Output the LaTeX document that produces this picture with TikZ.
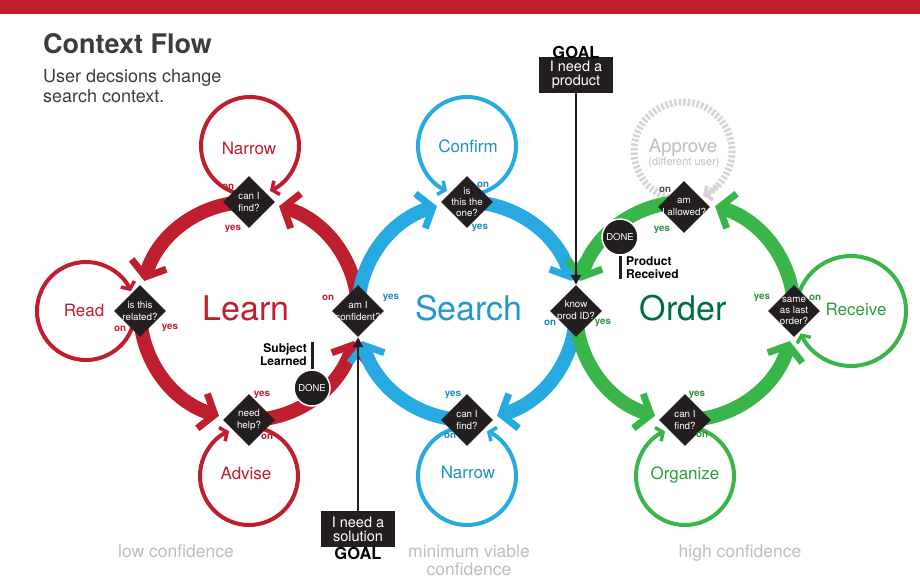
\documentclass[tikz,border=0pt]{standalone}
\usepackage{fontspec}
\setmainfont{TeX Gyre Heros}
\usetikzlibrary{arrows.meta,shapes.geometric,calc}
\definecolor{cred}{RGB}{190,30,45}
\definecolor{cblue}{RGB}{39,170,225}
\definecolor{cgreen}{RGB}{57,181,74}
\definecolor{cdgreen}{RGB}{0,110,60}
\definecolor{cgrayline}{RGB}{212,212,212}
\definecolor{cgraytext}{RGB}{190,190,190}
\definecolor{cdark}{RGB}{35,31,32}
\definecolor{ctitle}{RGB}{60,60,60}
\newcommand{\myfs}[2]{\fontsize{#1}{#2}\selectfont}
\begin{document}
\begin{tikzpicture}[x=1pt,y=-1pt,
  dia/.style={diamond, fill=cdark, minimum width=52pt, minimum height=52pt, inner sep=0pt},
  dt/.style={text=white, align=center, font=\myfs{9.8}{11.2}, inner sep=0pt},
  band/.style={line width=14pt, -{Straight Barb[length=13pt,width=36pt,line width=7pt]}},
  lp/.style={line width=4pt, -{Straight Barb[length=5.5pt,width=15pt,line width=3.5pt]}},
  yn/.style={font=\bfseries\myfs{9.8}{9.8}, inner sep=0pt},
  donenode/.style={circle, fill=cdark, draw=white, line width=1.5pt, minimum size=36pt, inner sep=0pt, text=white, font=\myfs{9.5}{10}},
  goalbox/.style={fill=cdark, text=white, align=center, font=\myfs{14.5}{14}, minimum width=74pt, minimum height=36pt, inner sep=1pt},
  goalline/.style={line width=2.5pt, draw=cdark, -{Triangle[length=10pt,width=10pt]}},
  bigword/.style={font=\myfs{34}{34}, anchor=base, inner sep=0pt},
  loopword/.style={font=\myfs{17}{17}, anchor=base, inner sep=0pt},
  boldlab/.style={font=\bfseries\myfs{12}{13}, inner sep=0pt},
  bottomlab/.style={font=\myfs{17.5}{17.5}, anchor=base, inner sep=0pt, text=cgraytext},
]
\useasboundingbox (0,0) rectangle (920,584);
\fill[cred] (0,0) rectangle (920,14);

% title
\node[anchor=base west, inner sep=0, font=\bfseries\myfs{27}{27}, text=ctitle] (title) at (43,53) {Context Flow};
\node[anchor=base west, inner sep=0, font=\myfs{18}{20}, text=ctitle] (sub1) at (43,82) {User decsions change};
\node[anchor=base west, inner sep=0, font=\myfs{18}{20}, text=ctitle] (sub2) at (43,102) {search context.};

% ring centres
\coordinate (Lc) at (249,311);
\coordinate (Sc) at (467,311);
\coordinate (Oc) at (685,311);
% loop centres
\coordinate (cNL) at (250,146);
\coordinate (cRd) at (86,311);
\coordinate (cAd) at (249,476);
\coordinate (cCf) at (467,146);
\coordinate (cNS) at (467,476);
\coordinate (cOg) at (685,476);
\coordinate (cRc) at (851,311);
\coordinate (cAp) at (683,151);

% diamond positions
\path (249,202) coordinate (plt) (140,311) coordinate (pll) (249,420) coordinate (plb)
      (358,311) coordinate (pac) (467,202) coordinate (pst) (576,311) coordinate (pkp)
      (467,420) coordinate (psb) (684,207) coordinate (pot) (794,311) coordinate (por)
      (685,420) coordinate (pob);

% small loops
\draw[lp,cred] ($(cNL)+(107:49)$) arc[start angle=107,end angle=426,radius=49];
\draw[lp,cred] ($(cRd)+(17:49)$) arc[start angle=17,end angle=336,radius=49];
\draw[lp,cred] ($(cAd)+(287:49)$) arc[start angle=287,end angle=606,radius=49];
\draw[lp,cblue] ($(cCf)+(73:49)$) arc[start angle=73,end angle=-246,radius=49];
\draw[lp,cblue] ($(cNS)+(253:49)$) arc[start angle=253,end angle=-66,radius=49];
\draw[lp,cgreen] ($(cOg)+(287:49)$) arc[start angle=287,end angle=606,radius=49];
\draw[lp,cgreen] ($(cRc)+(197:55)$) arc[start angle=197,end angle=516,radius=55];
\draw[cgrayline,line width=7pt,dash pattern=on 2.5pt off 2pt] ($(cAp)+(107:49)$) arc[start angle=107,end angle=420,radius=49];
\draw[cgrayline,line width=4pt,-{Straight Barb[length=5.5pt,width=15pt,line width=3.5pt]}] ($(cAp)+(405:49)$) arc[start angle=405,end angle=426,radius=49];

% Learn ring
\draw[band,cred] (plt) arc[start angle=270,end angle=196,radius=109];
\draw[band,cred] (pll) arc[start angle=180,end angle=106,radius=109];
\draw[band,cred] (plb) arc[start angle=90,end angle=16,radius=109];
\draw[band,cred] (pac) arc[start angle=0,end angle=-74,radius=109];
% Search ring
\draw[band,cblue] (pac) arc[start angle=180,end angle=254,radius=109];
\draw[band,cblue] (pst) arc[start angle=270,end angle=344,radius=109];
\draw[band,cblue] (pkp) arc[start angle=0,end angle=74,radius=109];
\draw[band,cblue] (psb) arc[start angle=90,end angle=164,radius=109];
% Order ring
\draw[band,cgreen] (pkp) arc[start angle=180,end angle=106,radius=109];
\draw[band,cgreen] (pob) arc[start angle=90,end angle=16,radius=109];
\draw[band,cgreen] (por) arc[start angle=0,end angle=-74,radius=109];
\draw[band,cgreen] ($(Oc)+(265:109)$) arc[start angle=265,end angle=196,radius=109];

% diamonds
\node[dia] (lt) at (plt) {};
\node[dia] (ll) at (pll) {};
\node[dia] (lb) at (plb) {};
\node[dia] (ac) at (pac) {};
\node[dia] (st) at (pst) {};
\node[dia] (kp) at (pkp) {};
\node[dia] (sb) at (psb) {};
\node[dia] (ot) at (pot) {};
\node[dia] (orr) at (por) {};
\node[dia] (ob) at (pob) {};
\node[dt] at (lt) {can I\\find?};
\node[dt] at (ll) {is this\\related?};
\node[dt] at (lb) {need\\help?};
\node[dt] at (ac) {am I\\confident?};
\node[dt] at (st) {is\\this the\\one?};
\node[dt] at (kp) {know\\prod ID?};
\node[dt] at (sb) {can I\\find?};
\node[dt] at (ot) {am\\I allowed?};
\node[dt] at (orr) {same\\as last\\order?};
\node[dt] at (ob) {can I\\find?};

% DONE nodes
\node[donenode] (d1) at (312,388) {DONE};
\node[donenode] (d2) at (620,237) {DONE};
\draw[line width=3pt,cdark] (d1.north) -- ++(0,-27) coordinate (sl);
\node[boldlab, anchor=north east, align=right] (subl) at ($(sl)+(-5,1)$) {Subject\\Learned};
\draw[line width=3pt,cdark] (d2.south) -- ++(0,23) coordinate (pr);
\node[boldlab, anchor=south west, align=left] (prl) at ($(pr)+(6,0)$) {Product\\Received};

% GOAL boxes
\node[goalbox] (g1) at (576,75) {I need a\\product};
\node[anchor=base, inner sep=0, font=\bfseries\myfs{16.5}{16.5}] (g1t) at (576,58) {GOAL};
\node[goalbox] (g2) at (358,529) {I need a\\solution};
\node[anchor=base, inner sep=0, font=\bfseries\myfs{16.5}{16.5}] (g2t) at (358,559) {GOAL};
\draw[goalline] (g1) -- (kp);
\draw[goalline] (g2) -- (ac);

% yes / on labels
\node[yn,text=cred] at (228,187) {on};
\node[yn,text=cred] at (233,229) {yes};
\node[yn,text=cred] at (120,329) {on};
\node[yn,text=cred] at (170,328) {yes};
\node[yn,text=cred] at (262,395) {yes};
\node[yn,text=cred] at (267,437) {on};
\node[yn,text=cred] at (328,298) {on};
\node[yn,text=cblue!80!black] at (391,298) {yes};
\node[yn,text=cblue!80!black] at (483,185) {on};
\node[yn,text=cblue!80!black] at (480,228) {yes};
\node[yn,text=cblue!80!black] at (550,323) {on};
\node[yn,text=cblue!80!black] at (453,395) {yes};
\node[yn,text=cblue!80!black] at (450,436) {on};
\node[yn,text=cgreen!80!black] at (603,323) {yes};
\node[yn,text=black!70] at (665,190) {on};
\node[yn,text=cgreen!80!black] at (662,230) {yes};
\node[yn,text=cgreen!80!black] at (762,298) {yes};
\node[yn,text=cgreen!80!black] at (815,298) {on};
\node[yn,text=cgreen!80!black] at (697,395) {yes};
\node[yn,text=cgreen!80!black] at (702,435) {on};

% big words
\node[bigword,text=cred] at (246,320) {Learn};
\node[bigword,text=cblue!90!black] at (469,320) {Search};
\node[bigword,text=cdgreen] at (683,320) {Order};

% loop words
\node[loopword,text=cred] at (249,154) {Narrow};
\node[loopword,text=cred] at (84,316) {Read};
\node[loopword,text=cred] at (246,479) {Advise};
\node[loopword,text=cblue!85!black] at (468,152) {Confirm};
\node[loopword,text=cblue!85!black] at (468,478) {Narrow};
\node[loopword,text=cgreen!85!black] at (685,479) {Organize};
\node[loopword,text=cgreen!85!black] at (856,315) {Receive};
\node[font=\myfs{18.5}{18.5}, anchor=base, inner sep=0pt, text=cgraytext] at (683,152) {Approve};
\node[font=\myfs{11}{11}, anchor=base, inner sep=0pt, text=cgraytext] at (684,165) {(different user)};

% bottom labels
\node[bottomlab] at (176,557) {low confidence};
\node[bottomlab] at (469,557) {minimum viable};
\node[bottomlab] at (469,575) {confidence};
\node[bottomlab] at (740,557) {high confidence};
\end{tikzpicture}
\end{document}
